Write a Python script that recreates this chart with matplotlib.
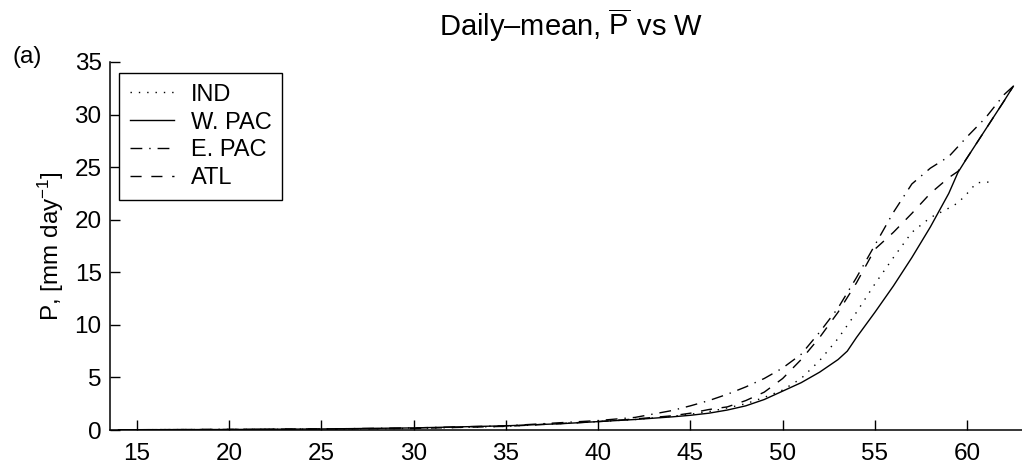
import matplotlib
matplotlib.use("Agg")
import matplotlib.pyplot as plt

plt.rcParams['font.family'] = ['Liberation Sans', 'DejaVu Sans']
plt.rcParams['mathtext.fontset'] = 'custom'
plt.rcParams['mathtext.rm'] = 'Liberation Sans'
plt.rcParams['mathtext.it'] = 'Liberation Sans'
plt.rcParams['mathtext.default'] = 'regular'

# W (x axis) sample points per basin and P values
w_wpac = [14, 15, 20, 25, 30, 35, 38, 40, 42, 44, 45, 46, 47, 48, 49, 50, 51, 52, 53, 53.5,
          54, 55, 56, 57, 58, 59, 59.5, 60, 61, 62, 62.5]
p_wpac = [0.02, 0.03, 0.05, 0.1, 0.2, 0.4, 0.6, 0.8, 1.0, 1.25, 1.4, 1.6, 1.9, 2.3, 2.9, 3.7, 4.5, 5.5, 6.7, 7.5,
          8.8, 11.2, 13.7, 16.4, 19.3, 22.5, 24.5, 25.9, 28.6, 31.3, 32.7]

w_epac = [14, 15, 20, 25, 30, 35, 40, 42, 44, 45, 46, 47, 48, 49, 50, 51, 52, 53, 54, 55,
          56, 57, 58, 59, 60, 61, 62, 62.5]
p_epac = [0.02, 0.03, 0.05, 0.1, 0.2, 0.4, 0.9, 1.2, 1.85, 2.3, 2.8, 3.4, 4.1, 4.9, 5.9, 7.2, 9.3, 11.6, 14.5, 17.6,
          20.7, 23.4, 24.9, 26.0, 27.9, 29.7, 31.9, 32.7]

w_atl = [14, 15, 20, 25, 30, 35, 40, 42, 44, 45, 46, 47, 48, 49, 50, 51, 52, 53, 54, 55,
         56, 57, 58, 59, 59.5, 60, 61, 62, 62.5]
p_atl = [0.02, 0.03, 0.05, 0.1, 0.15, 0.35, 0.8, 1.05, 1.35, 1.6, 1.95, 2.2, 2.8, 3.6, 4.9, 6.7, 8.8, 11.2, 14.0, 17.2,
         18.8, 20.6, 22.5, 24.0, 24.6, 25.9, 28.6, 31.3, 32.7]

w_ind = [14, 15, 20, 25, 30, 35, 40, 42, 44, 45, 46, 47, 48, 49, 50, 51, 52, 53, 54, 55,
         56, 57, 58, 59, 59.5, 60, 60.5, 61, 61.5]
p_ind = [0.02, 0.03, 0.05, 0.08, 0.15, 0.35, 0.8, 1.0, 1.3, 1.5, 1.75, 2.1, 2.5, 3.1, 3.8, 4.9, 6.6, 8.7, 11.2, 13.9,
         16.4, 18.8, 20.2, 21.1, 21.6, 22.5, 23.5, 23.6, 23.5]

xticks = [15, 20, 25, 30, 35, 40, 45, 50, 55, 60]
yticks = [0, 5, 10, 15, 20, 25, 30, 35]

fig = plt.figure(figsize=(10.22, 4.74), dpi=100)
ax = fig.add_axes([0.1076, 0.0928, 0.8924, 0.7764])

ax.plot(w_ind, p_ind, color='k', lw=1.0, dashes=(1, 5), label='IND')
ax.plot(w_wpac, p_wpac, color='k', lw=1.0, label='W. PAC')
ax.plot(w_epac, p_epac, color='k', lw=1.0, dashes=(8.5, 5, 1, 5), label='E. PAC')
ax.plot(w_atl, p_atl, color='k', lw=1.0, dashes=(8, 7), label='ATL')

ax.set_xlim(13.54, 62.97)
ax.set_ylim(0, 35)
ax.set_xticks(xticks)
ax.set_yticks(yticks)
ax.spines['top'].set_visible(False)
ax.spines['right'].set_visible(False)
for s in ['left', 'bottom']:
    ax.spines[s].set_linewidth(1.1)
ax.tick_params(direction='in', length=7, width=1.0, labelsize=17.5)
ax.tick_params(axis='x', pad=9)
ax.tick_params(axis='y', pad=6)

ax.set_ylabel('P, [mm day$^{-1}$]', fontsize=17.5, labelpad=6)

fig.text(571 / 1022, 1 - 36 / 474, 'Daily\u2013mean, $\\overline{P}$ vs W', ha='center', va='baseline', fontsize=21)
fig.text(13 / 1022, 1 - 63 / 474, '(a)', ha='left', va='baseline', fontsize=17.5)

leg = ax.legend(loc='upper left', bbox_to_anchor=(119 / 1022, 1 - 73 / 474),
                bbox_transform=fig.transFigure, borderaxespad=0, fontsize=17,
                handlelength=1.9, handletextpad=0.7, labelspacing=0.25, borderpad=0.45,
                fancybox=False, framealpha=1, edgecolor='k')
leg.get_frame().set_linewidth(1.0)

fig.savefig('out.png', dpi=100)
